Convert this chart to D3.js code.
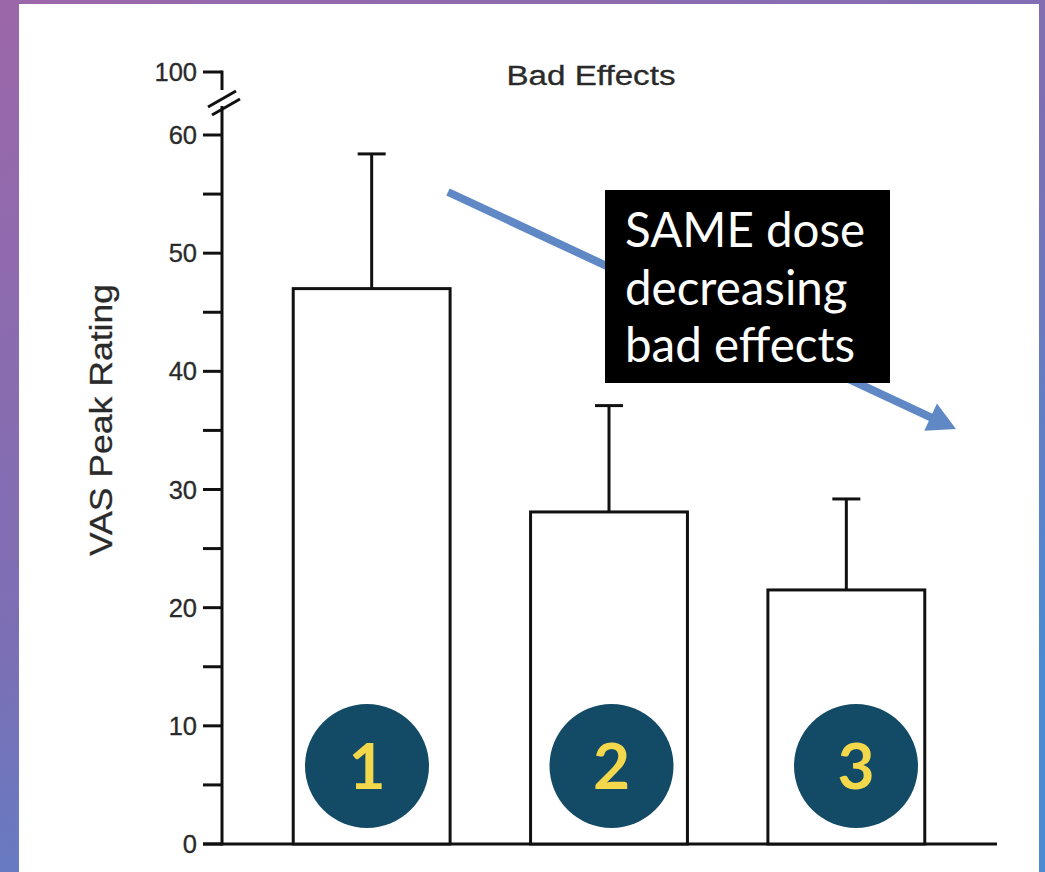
<!DOCTYPE html>
<html><head><meta charset="utf-8">
<script src="https://cdn.jsdelivr.net/npm/d3@7"></script>
<style>html,body{margin:0;padding:0;background:#fff;}svg{display:block;}</style>
</head><body>
<svg id="chart" width="1045" height="872"></svg>
<script>
const categories = ["1", "2", "3"];
const means = [47.0, 28.1, 21.5];
const errors = [11.4, 9.0, 7.7];
const majorTicks = [0, 10, 20, 30, 40, 50, 60, 100];
const minorTicks = [5, 15, 25, 35, 45, 55];
const title = "Bad Effects";
const yLabel = "VAS Peak Rating";
const noteLines = ["SAME dose", "decreasing", "bad effects"];

const svg = d3.select("#chart");
const defs = svg.append("defs");
const g = defs.append("linearGradient").attr("id","bg").attr("x1","0").attr("y1","0").attr("x2","0.6").attr("y2","1");
g.append("stop").attr("offset","0").attr("stop-color","#9c67a9");
g.append("stop").attr("offset","0.55").attr("stop-color","#7c6fb5");
g.append("stop").attr("offset","1").attr("stop-color","#4a8bd3");
svg.append("rect").attr("width",1045).attr("height",872).attr("fill","url(#bg)");
svg.append("rect").attr("x",19).attr("y",4).attr("width",1020).attr("height",880).attr("fill","#fff");

const y = d3.scaleLinear().domain([0, 60, 100]).range([844, 135, 72]);
const x = d3.scaleBand().domain(categories).range([253, 965]).paddingInner(0.339).paddingOuter(0.1695);
const badge = d3.scalePoint().domain(categories).range([367, 856]);

const axisX = 222;
const ink = "#111";
const textInk = "#2a2a2a";

const tickLen = 19;
const ax = svg.append("g").attr("stroke", ink).attr("stroke-width", 3);
ax.selectAll("line.tk").data(majorTicks.concat(minorTicks)).join("line")
  .attr("x1", axisX - tickLen).attr("x2", axisX).attr("y1", d => y(d)).attr("y2", d => y(d));
ax.append("line").attr("x1", axisX).attr("x2", axisX).attr("y1", y(100) - 1.5).attr("y2", y(100) + 18);
ax.append("line").attr("x1", axisX).attr("x2", axisX).attr("y1", y(100) + 34).attr("y2", y(0) + 1.5);
ax.append("line").attr("x1", 208).attr("y1", y(100) + 35).attr("x2", 236).attr("y2", y(100) + 19);
ax.append("line").attr("x1", 212).attr("y1", y(100) + 43).attr("x2", 240).attr("y2", y(100) + 27);
ax.append("line").attr("x1", axisX - tickLen).attr("x2", 997).attr("y1", y(0)).attr("y2", y(0));

svg.append("g").selectAll("text").data(majorTicks).join("text")
  .attr("x", 197).attr("y", d => y(d) + 9)
  .attr("text-anchor", "end")
  .attr("font-family", "Liberation Sans, Arial, sans-serif")
  .attr("font-size", 25.5).attr("fill", textInk)
  .attr("stroke", textInk).attr("stroke-width", 0.3)
  .text(d => d);

svg.append("g").selectAll("rect").data(categories).join("rect")
  .attr("x", d => x(d)).attr("width", x.bandwidth())
  .attr("y", (d, i) => y(means[i])).attr("height", (d, i) => y(0) - y(means[i]))
  .attr("fill", "#fff").attr("stroke", ink).attr("stroke-width", 3);

const eb = svg.append("g").attr("stroke", ink).attr("stroke-width", 3);
categories.forEach((c, i) => {
  const cx = x(c) + x.bandwidth() / 2;
  eb.append("line").attr("x1", cx).attr("x2", cx).attr("y1", y(means[i])).attr("y2", y(means[i] + errors[i]));
  eb.append("line").attr("x1", cx - 14).attr("x2", cx + 14).attr("y1", y(means[i] + errors[i])).attr("y2", y(means[i] + errors[i]));
});

svg.append("text").attr("x", 591).attr("y", 85).attr("text-anchor", "middle")
  .attr("font-family", "Liberation Sans, Arial, sans-serif").attr("font-size", 27).attr("fill", textInk)
  .attr("stroke", textInk).attr("stroke-width", 0.3)
  .attr("textLength", 169).attr("lengthAdjust", "spacingAndGlyphs").text(title);

svg.append("text").attr("transform", "translate(112,420) rotate(-90)").attr("text-anchor", "middle")
  .attr("font-family", "Liberation Sans, Arial, sans-serif").attr("font-size", 32).attr("fill", textInk)
  .attr("stroke", textInk).attr("stroke-width", 0.3)
  .attr("textLength", 272).attr("lengthAdjust", "spacingAndGlyphs").text(yLabel);

const start = [448, 192], tip = [956, 429];
const ang = Math.atan2(tip[1] - start[1], tip[0] - start[0]);
const headL = 28, headW = 15;
const base = [tip[0] - headL * Math.cos(ang), tip[1] - headL * Math.sin(ang)];
svg.append("line").attr("x1", start[0]).attr("y1", start[1]).attr("x2", base[0] + 2 * Math.cos(ang)).attr("y2", base[1] + 2 * Math.sin(ang))
  .attr("stroke", "#5f88c5").attr("stroke-width", 8);
svg.append("path").attr("fill", "#5f88c5")
  .attr("d", `M${tip[0]},${tip[1]} L${base[0] - headW * Math.sin(ang)},${base[1] + headW * Math.cos(ang)} L${base[0] + headW * Math.sin(ang)},${base[1] - headW * Math.cos(ang)} Z`);

svg.append("rect").attr("x", 605).attr("y", 190).attr("width", 285).attr("height", 193).attr("fill", "#000");
svg.append("g").selectAll("text").data(noteLines).join("text")
  .attr("x", 625).attr("y", (d, i) => 247 + i * 57.5)
  .attr("font-family", "Lato, sans-serif").attr("font-size", 47.5).attr("fill", "#fff")
  .text(d => d);

const bg = svg.append("g").selectAll("g").data(categories).join("g")
  .attr("transform", d => `translate(${badge(d)},766)`);
bg.append("circle").attr("r", 62).attr("fill", "#134a66");
bg.append("text").attr("text-anchor", "middle").attr("y", 23)
  .attr("font-family", "Lato, sans-serif").attr("font-weight", "bold").attr("font-size", 64).attr("fill", "#f3d84b")
  .text(d => d);
</script>
</body></html>
